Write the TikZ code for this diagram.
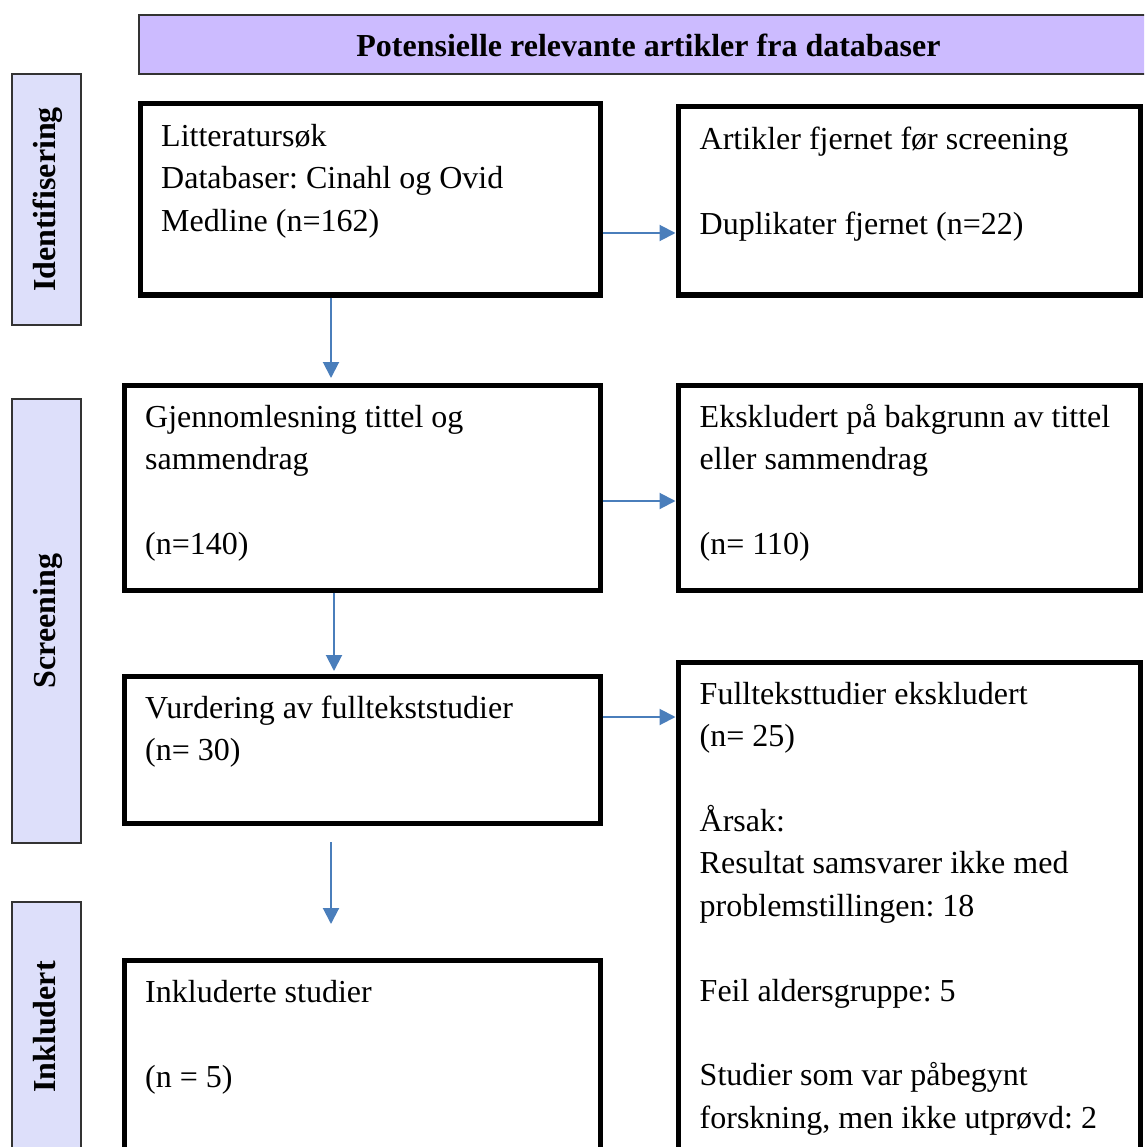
\documentclass[tikz,border=0pt]{standalone}
\usepackage{fontspec}
\setmainfont{Liberation Serif}
\usetikzlibrary{arrows.meta}
\definecolor{headfill}{RGB}{204,187,255}
\definecolor{sidefill}{RGB}{221,223,250}
\definecolor{flowblue}{RGB}{74,126,187}
\frenchspacing
\begin{document}
\begin{tikzpicture}[x=1pt, y=-1pt,
    box/.style={draw, line width=5pt, inner sep=0pt},
    txt/.style={anchor=north west, inner sep=0pt, align=left, font=\fontsize{32}{42.4}\selectfont},
    side/.style={draw=black!80, line width=1.3pt, fill=sidefill, rotate=90, inner sep=0pt,
      minimum height=69pt, font=\fontsize{32}{42.4}\selectfont\bfseries, text height=29.7pt, text depth=12.7pt},
    flow/.style={draw=flowblue, line width=2pt, -{Triangle[length=16pt,width=16pt]}}]
  \useasboundingbox (0,0) rectangle (1144,1147);
  \clip (0,0) rectangle (1144,1147);

  \node[draw=black!80, line width=1.3pt, fill=headfill, inner sep=0pt, minimum width=1019pt, minimum height=59pt,
    font=\fontsize{32}{42.4}\selectfont\bfseries, text height=29pt, text depth=4.6pt] (head) at (648.5,44.5)
    {Potensielle relevante artikler fra databaser};

  \node[side, minimum width=251pt] (ident) at (46.5,199.5) {Identifisering};
  \node[side, minimum width=444pt] (screen) at (46.5,621) {Screening};
  \node[side, minimum width=250pt] (inkl) at (46.5,1027) {Inkludert};

  \node[box, minimum width=460pt, minimum height=191pt] (lit) at (370,199.5) {};
  \node[box, minimum width=462pt, minimum height=188pt] (dup) at (909,201) {};
  \node[box, minimum width=476pt, minimum height=205pt] (scr) at (362,487.5) {};
  \node[box, minimum width=462pt, minimum height=205pt] (exc) at (909,487.5) {};
  \node[box, minimum width=476pt, minimum height=147pt] (full) at (362,749.5) {};
  \node[box, minimum width=462pt, minimum height=558pt] (excfull) at (909,941) {};
  \node[box, minimum width=476pt, minimum height=260pt] (incl) at (362,1090) {};

  \node[txt] (littxt) at ([shift={(23.5pt,-15pt)}]lit.north west)
    {\strut Litteratursøk\\Databaser: Cinahl og Ovid\\Medline (n=162)};
  \node[txt] (duptxt) at ([shift={(24pt,-15pt)}]dup.north west)
    {\strut Artikler fjernet før screening\\[42.4pt]Duplikater fjernet (n=22)};
  \node[txt] (scrtxt) at ([shift={(23.5pt,-15pt)}]scr.north west)
    {\strut Gjennomlesning tittel og\\sammendrag\\[42.4pt](n=140)};
  \node[txt] (exctxt) at ([shift={(24pt,-15pt)}]exc.north west)
    {\strut Ekskludert på bakgrunn av tittel\\eller sammendrag\\[42.4pt](n= 110)};
  \node[txt] (fulltxt) at ([shift={(23.5pt,-15pt)}]full.north west)
    {\strut Vurdering av fulltekststudier\\(n= 30)};
  \node[txt] (excfulltxt) at ([shift={(24pt,-15pt)}]excfull.north west)
    {\strut Fullteksttudier ekskludert\\(n= 25)\\[42.4pt]Årsak:\\Resultat samsvarer ikke med\\problemstillingen: 18\\[42.4pt]Feil aldersgruppe: 5\\[42.4pt]Studier som var påbegynt\\forskning, men ikke utprøvd: 2};
  \node[txt] (incltxt) at ([shift={(23.5pt,-15pt)}]incl.north west)
    {\strut Inkluderte studier\\[42.4pt](n = 5)};

  \coordinate (gapstart) at (331,842);
  \coordinate (gapend) at (331,924);

  \draw[flow] ([yshift=-33.5pt]lit.east) -- ([yshift=-33.5pt]lit.east -| dup.west);
  \draw[flow, shorten >=4.5pt] ([xshift=-39pt]lit.south) -- ([xshift=-39pt]lit.south |- scr.north);
  \draw[flow] ([yshift=-13.5pt]scr.east) -- ([yshift=-13.5pt]scr.east -| exc.west);
  \draw[flow, shorten >=2.5pt] ([xshift=-28pt]scr.south) -- ([xshift=-28pt]scr.south |- full.north);
  \draw[flow] ([yshift=32.5pt]full.east) -- ([yshift=32.5pt]full.east -| excfull.west);
  \draw[flow] (gapstart) -- (gapend);
\end{tikzpicture}
\end{document}
